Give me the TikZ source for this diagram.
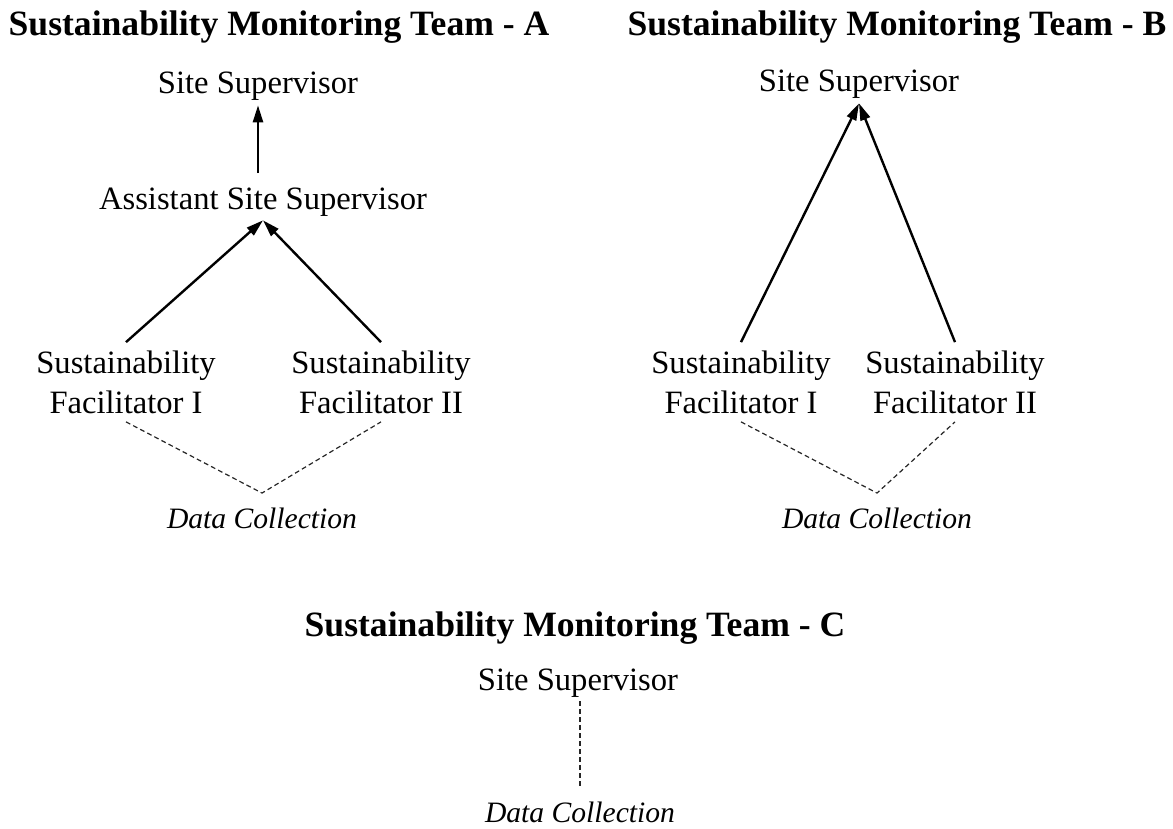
\documentclass[tikz,border=0pt]{standalone}
\usepackage{fontspec}
\setmainfont{Liberation Serif}
\usetikzlibrary{arrows.meta}

\tikzset{
  head/.style={font=\fontsize{17.8}{21}\selectfont\bfseries, anchor=base},
  role/.style={font=\fontsize{16.3}{20}\selectfont, anchor=base, inner sep=2pt},
  fac/.style={font=\fontsize{16.3}{20}\selectfont, align=center, inner sep=4pt},
  dc/.style={font=\fontsize{14.8}{20}\selectfont\itshape, anchor=base, inner sep=7pt},
  up/.style={-{Triangle[length=8.5pt,width=5pt]}, line width=1.2pt},
  link/.style={dash pattern=on 2.4pt off 1.6pt, line width=0.6pt, draw=black!85}
}

\begin{document}
\begin{tikzpicture}[x=0.5pt, y=-0.5pt]
\useasboundingbox (0,0) rectangle (1173,829);

% team A
\node[head] (headA) at (279,36) {Sustainability Monitoring Team - A};
\node[role] (supA) at (258,94) {Site Supervisor};
\node[role] (asstA) at (263,209) {Assistant Site Supervisor};
\node[fac] (facA1) at (126,382) {Sustainability\\Facilitator I};
\node[fac] (facA2) at (381,382) {Sustainability\\Facilitator II};
\node[dc] (dcA) at (262,528) {Data Collection};

\draw[up, shorten <=5pt] (asstA.north -| supA.south) -- (supA.south);
\draw[up] (facA1.north) -- (asstA.south);
\draw[up] (facA2.north) -- (asstA.south);
\draw[link] (facA1.south) -- (dcA.north) -- (facA2.south);

% team B
\node[head] (headB) at (897,36) {Sustainability Monitoring Team - B};
\node[role] (supB) at (859,92) {Site Supervisor};
\node[fac] (facB1) at (741,382) {Sustainability\\Facilitator I};
\node[fac] (facB2) at (955,382) {Sustainability\\Facilitator II};
\node[dc] (dcB) at (877,528) {Data Collection};

\draw[up] (facB1.north) -- (supB.south);
\draw[up] (facB2.north) -- (supB.south);
\draw[link] (facB1.south) -- (dcB.north) -- (facB2.south);

% team C
\node[head] (headC) at (575,636) {Sustainability Monitoring Team - C};
\node[role] (supC) at (578,690) {Site Supervisor};
\node[dc] (dcC) at (580,822) {Data Collection};

\draw[link] (supC.south -| dcC.north) -- (dcC.north);
\end{tikzpicture}
\end{document}
